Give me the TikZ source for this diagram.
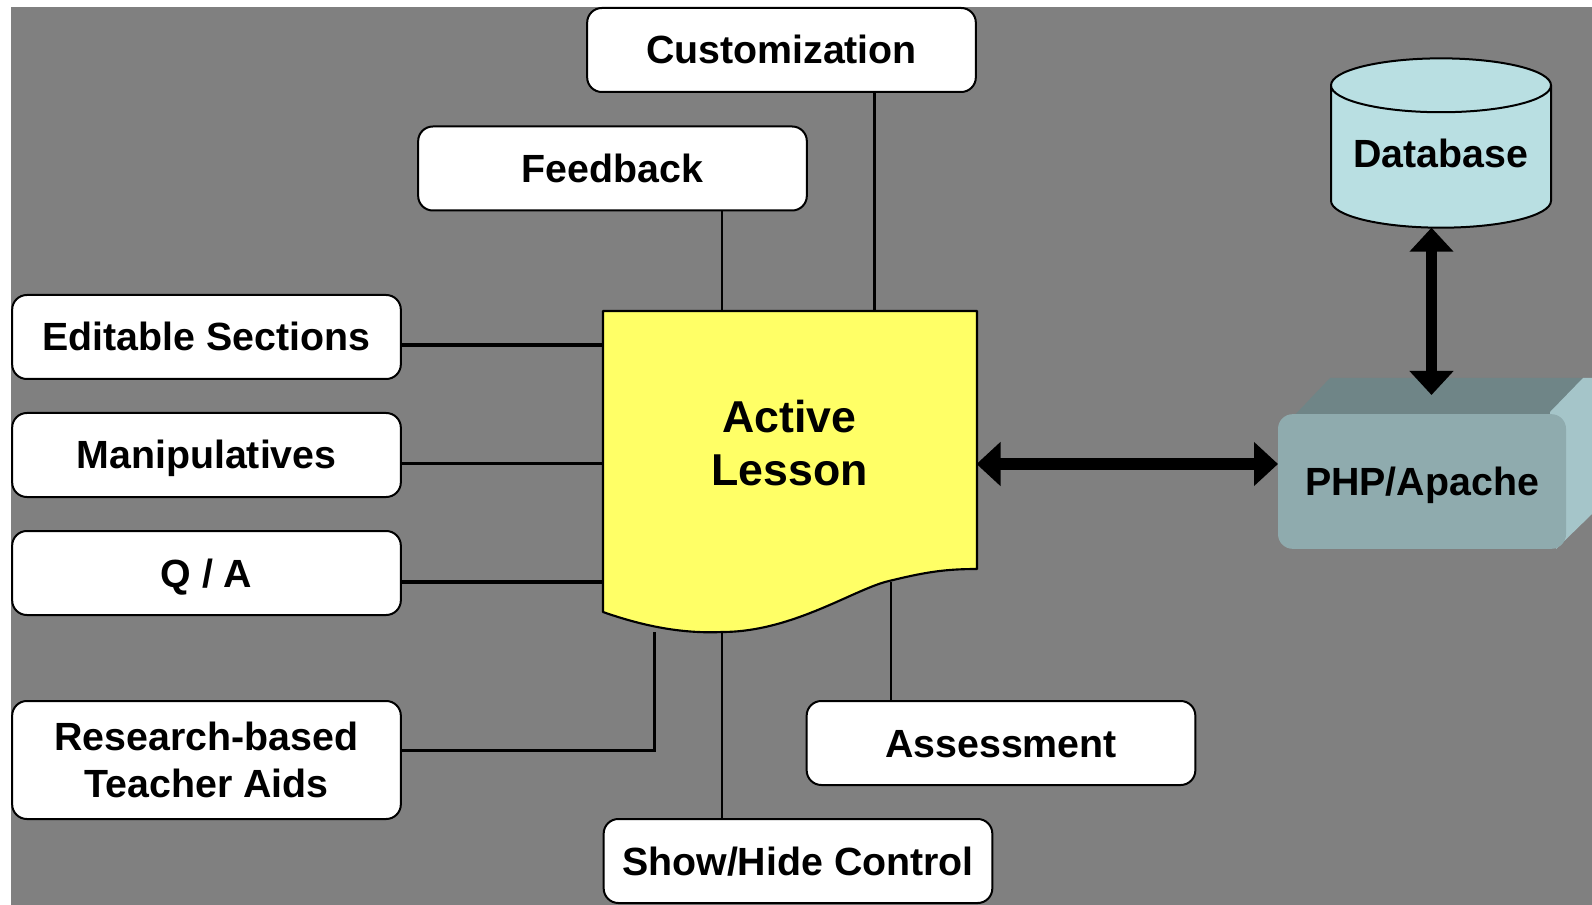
\documentclass[tikz,border=0pt]{standalone}
\usepackage{fontspec}
\setmainfont{Liberation Sans}
\usetikzlibrary{arrows.meta,shapes.geometric}
\definecolor{backgray}{HTML}{808080}
\definecolor{noteyellow}{HTML}{FFFF66}
\definecolor{dbblue}{HTML}{B9DFE2}
\definecolor{phpfront}{HTML}{8FABAE}
\definecolor{phptop}{HTML}{6F8587}
\definecolor{phpside}{HTML}{A5C5C9}
\tikzset{
    boxtext/.style={font=\bfseries\fontsize{29.5}{35.8}\selectfont, align=center, inner sep=0pt, outer sep=0pt},
    featurebox/.style={boxtext, draw=black, fill=white, line width=1.5pt, rounded corners=11pt, minimum width=291.5pt, minimum height=63pt},
    lineupbox/.style={featurebox, text height=21pt, text depth=0pt},
    wire/.style={draw=black, line width=1.7pt},
    thickwire/.style={draw=black, line width=2.4pt},
    linkarrow/.style={line width=8.5pt, {Triangle[length=18pt,width=32pt]}-{Triangle[length=18pt,width=32pt]}}
}
\begin{document}
\begin{tikzpicture}[x=0.75pt, y=-0.75pt, node distance=88.5pt]
    \useasboundingbox (0,0) rectangle (1592,905);
    \fill[white] (0,0) rectangle (1592,905);
    \fill[backgray] (11,7) rectangle (1592,905);

    % lesson page
    \draw[line width=1.6pt, fill=noteyellow, line join=round] (603,311) -- (977,311) -- (977,569)
        .. controls (945,569) and (925,572) .. (885,582)
        .. controls (850,592) and (790,632) .. (722,632)
        .. controls (680,634) and (640,625) .. (603,612) -- cycle;
    \node[boxtext, font=\bfseries\fontsize{33.5}{40}\selectfont, minimum width=280.5pt, minimum height=194pt] (lesson) at (789.5,443) {Active\\Lesson};

    % feature boxes
    \node[lineupbox] (customization) at (781.5,50) {Customization};
    \node[lineupbox] (feedback) at (612.5,168.5) {Feedback};
    \node[lineupbox] (editable) at (206.5,337) {Editable Sections};
    \node[lineupbox] (manipulatives) [below of=editable] {Manipulatives};
    \node[lineupbox] (qa) [below of=manipulatives] {Q / A};
    \node[featurebox, minimum height=88.5pt] (research) at (206.5,760) {Research-based\\Teacher Aids};
    \node[lineupbox] (assessment) at (1001,743) {Assessment};
    \node[lineupbox] (showhide) at (798,861) {Show/Hide Control};

    % where the wires meet the page
    \coordinate (tapcustom) at (874.5,311);
    \coordinate (tapfeed) at (722,311);
    \coordinate (tapedit) at (603,345);
    \coordinate (tapmanip) at (603,463.5);
    \coordinate (tapqa) at (603,582);
    \coordinate (tapresearch) at (654.5,632);
    \coordinate (bendresearch) at (654.5,750.5);
    \coordinate (tapshow) at (722,633);
    \coordinate (tapassess) at (891,582);

    \draw[wire] (customization.south -| tapcustom) -- (tapcustom);
    \draw[wire] (feedback.south -| tapfeed) -- (tapfeed);
    \draw[thickwire] (editable.east |- tapedit) -- (tapedit);
    \draw[wire] (manipulatives.east |- tapmanip) -- (tapmanip);
    \draw[thickwire] (qa.east |- tapqa) -- (tapqa);
    \draw[thickwire] (research.east |- bendresearch) -- (bendresearch) -- (tapresearch);
    \draw[wire] (showhide.north -| tapshow) -- (tapshow);
    \draw[wire] (assessment.north -| tapassess) -- (tapassess);

    % server block
    \fill[phptop] (1290,420) -- (1330,378) -- (1583,378) -- (1550,420) -- cycle;
    \fill[phpside] (1550,412) -- (1583,378) -- (1592,378) -- (1592,514) -- (1556,549) -- cycle;
    \node[boxtext, fill=phpfront, rounded corners=11pt, text height=21pt, text depth=0pt, minimum width=216pt, minimum height=101pt] (php) at (1422,481.5) {PHP/Apache};

    % database
    \node[boxtext, cylinder, shape border rotate=90, aspect=0.308, draw=black, fill=dbblue, line width=1.5pt, text height=21pt, text depth=4.5pt, minimum width=165pt, minimum height=127pt] (database) at (1441,157) {Database};

    % links
    \coordinate (linkrow) at (1100,464);
    \coordinate (linkcol) at (1431.5,395);
    \draw[linkarrow] (lesson.east |- linkrow) -- (php.west |- linkrow);
    \draw[linkarrow] (database.south -| linkcol) -- (linkcol);
\end{tikzpicture}
\end{document}
